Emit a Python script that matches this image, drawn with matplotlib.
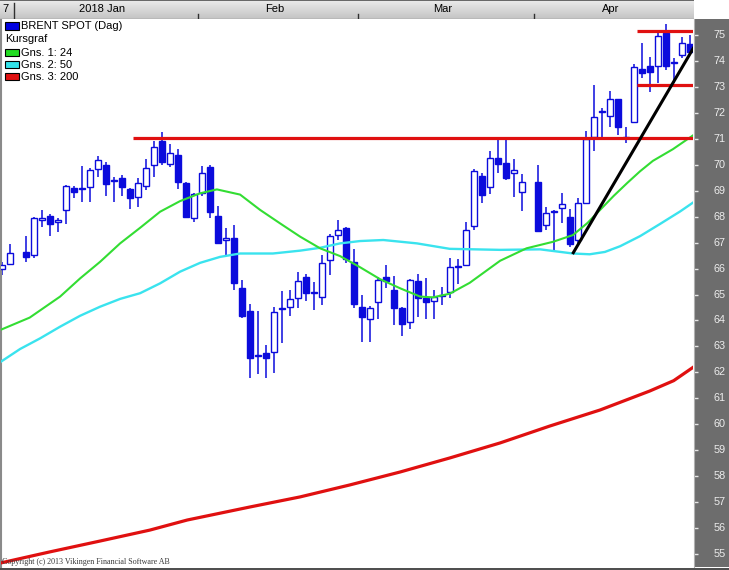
import numpy as np
import matplotlib.pyplot as plt
from matplotlib.patches import Rectangle
from matplotlib.colors import LinearSegmentedColormap
from matplotlib.transforms import blended_transform_factory

# slot = weekday number counted from 2017-12-28 (holidays stay empty)
slots = [0, 1, 3, 4, 5, 6, 7, 8, 9, 10, 11, 12, 13, 14, 15, 16, 17, 18, 19, 20,
         21, 22, 23, 24, 25, 26, 27, 28, 29, 30, 31, 32, 33, 34, 35, 36, 37, 38,
         39, 40, 41, 42, 43, 44, 45, 46, 47, 48, 49, 50, 51, 52, 53, 54, 55, 56,
         57, 58, 59, 60, 61, 62, 63, 64, 65, 67, 68, 69, 70, 71, 72, 73, 74, 75,
         76, 77, 78, 79, 80, 81, 82, 83, 84, 85, 86]
opens = [65.98, 66.16, 66.63, 66.51, 67.86, 68.03, 67.78, 68.24, 69.12, 69.08,
         69.13, 69.82, 69.98, 69.38, 69.48, 69.05, 68.75, 69.19, 69.98, 70.92,
         70.02, 70.38, 69.29, 67.94, 68.90, 69.90, 68.03, 67.09, 67.17, 65.24,
         64.36, 62.66, 62.76, 62.77, 64.45, 64.53, 64.85, 65.66, 65.05, 64.92,
         66.33, 67.29, 67.55, 66.24, 64.51, 64.04, 64.70, 65.69, 65.17, 64.47,
         63.93, 65.52, 64.88, 64.76, 64.93, 65.11, 66.05, 66.14, 67.64, 69.58,
         69.13, 70.27, 70.06, 69.69, 68.96, 69.32, 67.68, 68.17, 68.32, 67.97,
         67.10, 68.51, 71.06, 72.02, 71.88, 72.52, 71.04, 71.64, 73.68, 73.82,
         73.82, 75.09, 73.93, 74.23, 74.65]
highs = [66.26, 66.95, 67.25, 67.97, 68.26, 68.11, 67.94, 69.22, 69.19, 69.96,
         69.86, 70.34, 70.11, 69.54, 69.61, 69.09, 69.50, 70.21, 70.92, 71.27,
         70.79, 70.61, 69.35, 68.90, 69.96, 69.99, 68.41, 67.55, 67.68, 65.56,
         64.62, 64.36, 63.05, 64.53, 65.13, 65.17, 65.88, 65.78, 65.49, 66.52,
         67.33, 67.87, 67.61, 66.75, 64.98, 64.56, 65.66, 66.14, 65.72, 64.53,
         65.60, 65.78, 65.62, 65.17, 65.30, 66.39, 66.37, 67.81, 69.82, 69.67,
         70.54, 71.02, 70.99, 70.21, 69.63, 69.99, 68.38, 68.26, 68.90, 68.28,
         68.73, 71.30, 73.07, 72.18, 72.85, 72.53, 71.47, 73.88, 74.70, 74.16,
         75.07, 75.42, 74.10, 74.93, 75.00]
lows = [65.75, 66.16, 66.24, 66.40, 67.61, 67.27, 67.42, 67.71, 68.73, 68.58,
        68.58, 69.54, 68.81, 68.55, 68.80, 68.29, 68.38, 69.03, 69.54, 69.99,
        69.93, 69.07, 67.96, 67.81, 68.81, 67.94, 66.95, 66.52, 65.17, 64.11,
        61.77, 61.92, 61.77, 61.96, 63.12, 64.18, 64.49, 64.75, 64.40, 64.60,
        65.75, 67.10, 66.20, 64.49, 63.18, 63.18, 64.06, 65.24, 63.82, 63.41,
        63.67, 64.14, 64.04, 64.06, 64.60, 64.85, 65.39, 66.12, 67.49, 68.54,
        68.87, 69.67, 69.41, 68.77, 68.23, 67.45, 67.49, 66.71, 67.74, 66.82,
        66.99, 68.49, 70.54, 71.08, 71.47, 71.15, 70.83, 71.60, 73.33, 72.82,
        73.14, 73.65, 73.14, 74.10, 74.34]
closes = [66.14, 66.59, 66.43, 67.94, 67.94, 67.71, 67.86, 69.18, 68.96, 69.10,
          69.80, 70.17, 69.27, 69.36, 69.13, 68.71, 69.29, 69.86, 70.70, 70.09,
          70.44, 69.35, 68.00, 68.86, 69.67, 68.19, 66.97, 67.19, 65.43, 64.18,
          62.56, 62.62, 62.54, 64.34, 64.49, 64.82, 65.52, 65.05, 65.09, 66.20,
          67.27, 67.50, 66.37, 64.62, 64.14, 64.47, 65.56, 65.52, 64.49, 63.85,
          65.55, 64.88, 64.70, 64.92, 64.96, 66.07, 66.09, 67.49, 69.77, 68.83,
          70.25, 70.03, 69.48, 69.80, 69.35, 67.46, 68.13, 68.21, 68.49, 66.95,
          68.51, 70.98, 71.85, 72.06, 72.52, 71.44, 71.08, 73.76, 73.52, 73.59,
          74.96, 73.82, 73.97, 74.70, 74.36]

# moving averages
ma24_x = [-0.2, 3.5, 7.3, 9.8, 12.3, 14.8, 17.3, 19.8, 22.3, 24.8, 26.9, 29.8,
          32.3, 34.8, 37.3, 39.8, 42.3, 44.8, 47.3, 49.8, 52.3, 53.9, 56.0, 58.5,
          62.3, 65.6, 68.9, 71.4, 73.2, 74.8, 76.5, 78.2, 79.8, 81.4, 83.9, 86.5]
ma24_y = [63.63, 64.11, 64.92, 65.62, 66.26, 66.97, 67.57, 68.19, 68.60, 68.90,
          69.05, 68.85, 68.26, 67.74, 67.23, 66.78, 66.48, 66.05, 65.59, 65.24,
          64.92, 64.89, 65.03, 65.45, 66.30, 66.78, 67.03, 67.29, 67.75, 68.26,
          68.8, 69.3, 69.75, 70.15, 70.6, 71.15]
ma50_x = [-0.2, 2.3, 4.8, 7.3, 9.8, 12.3, 14.8, 17.3, 19.8, 22.3, 24.8, 27.3,
          29.8, 33.9, 37.3, 39.8, 42.3, 44.8, 47.7, 51.9, 56.0, 62.3, 67.3, 71.4,
          73.5, 75.4, 77.3, 79.8, 82.3, 84.8, 86.5]
ma50_y = [62.39, 62.90, 63.31, 63.76, 64.18, 64.53, 64.83, 65.05, 65.43, 65.88,
          66.22, 66.45, 66.58, 66.58, 66.69, 66.80, 66.97, 67.06, 67.10, 66.97,
          66.76, 66.72, 66.74, 66.58, 66.55, 66.64, 66.86, 67.25, 67.72, 68.20,
          68.56]
ma200_x = [-0.2, 6.0, 12.3, 18.5, 23.2, 31.0, 37.3, 43.5, 49.8, 56.0, 62.3,
           68.5, 74.8, 81.0, 84.0, 86.5]
ma200_y = [54.65, 55.08, 55.50, 55.92, 56.31, 56.81, 57.20, 57.66, 58.16, 58.70,
           59.28, 59.93, 60.55, 61.28, 61.68, 62.21]

# drawn support / resistance lines: (from slot, to slot, price)
hlines = [(16.4, 87.0, 71.03), (79.4, 87.0, 75.17), (79.4, 87.0, 73.07)]
trend_x = [71.45, 86.45]
trend_y = [66.61, 74.49]

# month labels in the header
month_names = ["2018 Jan", "Feb", "Mar", "Apr"]
month_starts = [1.5, 24.5, 44.5, 66.5]
price_ticks = list(range(55, 76))

legend_items = [("BRENT SPOT (Dag)", "#0000e0"), ("Kursgraf", None),
                ("Gns. 1: 24", "#22dd22"), ("Gns. 2: 50", "#33e3ea"),
                ("Gns. 3: 200", "#e01010")]

W, H = 729, 570
BLUE = "#0b0bdc"
plt.rcParams['font.family'] = ['Liberation Sans', 'DejaVu Sans']


def px2slot(px):
    return (px - 1.7) / 8.0


def px2price(py):
    return 75 - (py - 35) / 25.95


fig = plt.figure(figsize=(W / 100, H / 100), dpi=100)
fig.patch.set_facecolor("white")

# ---- main price pane
ax = fig.add_axes([1 / W, 3 / H, 692 / W, 548 / H])
ax.set_xlim(px2slot(1), px2slot(693))
ax.set_ylim(px2price(567), px2price(19))
ax.set_xticks([])
ax.set_yticks([])
for s in ["top", "right", "bottom"]:
    ax.spines[s].set_visible(False)
ax.spines["left"].set_color("#8a8a8a")
ax.spines["left"].set_linewidth(1.5)

x = np.array(slots, dtype=float)
o = np.array(opens)
c = np.array(closes)
up = c >= o
ax.vlines(x, lows, highs, color=BLUE, lw=1.1, zorder=2)
bottoms = np.minimum(o, c)
heights = np.maximum(np.abs(c - o), 0.035)
ax.bar(x[up], heights[up], bottom=bottoms[up], width=0.72, facecolor="white",
       edgecolor=BLUE, linewidth=1.0, zorder=3)
ax.bar(x[~up], heights[~up], bottom=bottoms[~up], width=0.72, facecolor=BLUE,
       edgecolor=BLUE, linewidth=1.0, zorder=3)

ax.plot(ma200_x, ma200_y, color="#e01010", lw=2.3, zorder=4)
ax.plot(ma50_x, ma50_y, color="#3ae3ee", lw=1.7, zorder=4)
ax.plot(ma24_x, ma24_y, color="#33dd33", lw=1.5, zorder=4)

for x0, x1, p in hlines:
    ax.plot([x0, x1], [p, p], color="#e01010", lw=2.3, zorder=5,
            solid_capstyle="butt")
ax.plot(trend_x, trend_y, color="black", lw=2.2, zorder=5)

# ---- price scale on the right
ax2 = fig.add_axes([694 / W, 3 / H, 35 / W, 548 / H])
ax2.set_facecolor("#6d6d6d")
ax2.set_ylim(ax.get_ylim())
ax2.set_xlim(0, 1)
ax2.set_xticks([])
ax2.set_yticks(price_ticks)
ax2.tick_params(axis="y", direction="in", length=3, width=1, color="#e6e6e6",
                labelleft=False)
for s in ax2.spines.values():
    s.set_visible(False)
ax2.spines["left"].set_visible(True)
ax2.spines["left"].set_color("#b0b0b0")
tr = blended_transform_factory(ax2.transAxes, ax2.transData)
for v in price_ticks:
    ax2.text(0.74, v, str(v), transform=tr, ha="center", va="center",
             fontsize=7.8, color="#ececec")

# ---- date header
axh = fig.add_axes([0, 1 - 19 / H, 694 / W, 19 / H])
axh.set_xlim(px2slot(0), px2slot(694))
axh.set_ylim(0, 1)
grad = LinearSegmentedColormap.from_list("hdr", ["#c4c4c4", "#ebebeb"])
axh.imshow(np.linspace(0, 1, 32).reshape(-1, 1), cmap=grad, aspect="auto",
           extent=[px2slot(0), px2slot(694), 0, 1], origin="lower")
axh.set_xticks([])
axh.set_yticks([])
for s in axh.spines.values():
    s.set_visible(False)
axh.axhline(0.98, color="#505050", lw=1.2)
axh.axhline(0.0, color="#909090", lw=1.0)
edges = month_starts + [px2slot(694)]
for i, name in enumerate(month_names):
    axh.text((edges[i] + edges[i + 1]) / 2 - 0.4, 0.52, name, ha="center",
             va="center", fontsize=8, color="black")
    top = 0.85 if i == 0 else 0.25
    axh.plot([month_starts[i], month_starts[i]], [0.05, top], color="#303030",
             lw=1.0)
# tail of the clipped "2017" label at the far left
axh.text(px2slot(2), 0.52, "7", ha="left", va="center", fontsize=8,
         color="black")

# ---- legend block
for i, (label, col) in enumerate(legend_items):
    yc = [26, 39.5, 52.5, 64.5, 76.5][i]
    if col is None:
        fig.text(5 / W, 1 - yc / H, label, fontsize=8, va="center")
    else:
        fig.add_artist(Rectangle((5 / W, 1 - (yc + 3.5) / H), 14 / W, 7 / H,
                                 facecolor=col, edgecolor="black", lw=0.8,
                                 transform=fig.transFigure))
        fig.text(21 / W, 1 - yc / H, label, fontsize=8, va="center")

fig.text(2 / W, 1 - 562 / H, "Copyright (c) 2013 Vikingen Financial Software AB",
         fontsize=5.8, family="Liberation Serif", color="#3a3a3a", va="center")
fig.add_artist(Rectangle((0, 0), 1, 2 / H, facecolor="#505050", lw=0,
                         transform=fig.transFigure))

fig.savefig("out.png", dpi=100)
